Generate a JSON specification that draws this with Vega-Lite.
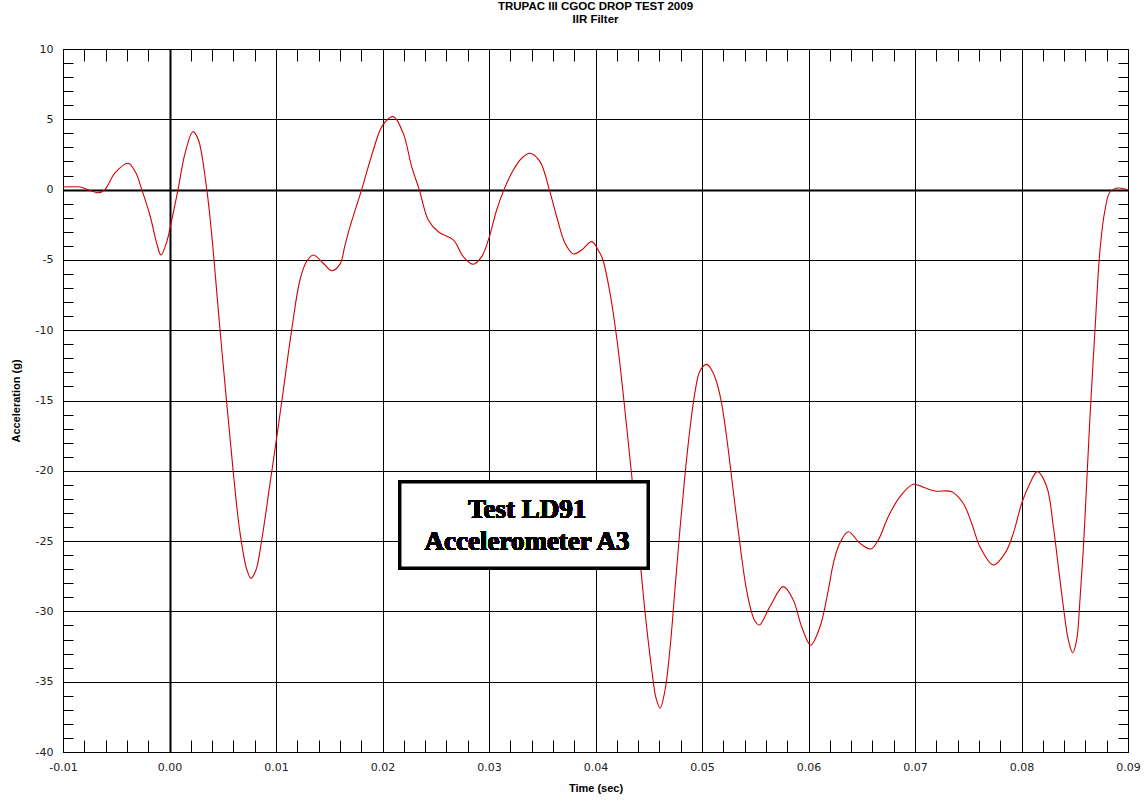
{
  "$schema": "https://vega.github.io/schema/vega-lite/v6.json",
  "width": 1065,
  "height": 703,
  "autosize": {"type": "none"},
  "padding": {"left": 63, "top": 49, "right": 18, "bottom": 51},
  "background": "white",
  "title": {
    "text": "TRUPAC III CGOC DROP TEST 2009",
    "subtitle": "IIR Filter",
    "anchor": "middle",
    "frame": "group",
    "font": "Liberation Sans",
    "fontSize": 11.5,
    "fontWeight": "bold",
    "color": "#000000",
    "subtitleFont": "Liberation Sans",
    "subtitleFontSize": 11.5,
    "subtitleFontWeight": "bold",
    "subtitleColor": "#000000",
    "subtitlePadding": 1,
    "offset": 18
  },
  "data": {
    "values": [
      {"t": -0.0100, "g": 0.19}, {"t": -0.0090, "g": 0.20}, {"t": -0.0084, "g": 0.18},
      {"t": -0.0067, "g": -0.22}, {"t": -0.0061, "g": -0.03}, {"t": -0.0051, "g": 1.2},
      {"t": -0.0039, "g": 1.87}, {"t": -0.0032, "g": 1.25}, {"t": -0.0026, "g": 0.0},
      {"t": -0.0018, "g": -1.93}, {"t": -0.0012, "g": -3.82}, {"t": -0.0008, "g": -4.65},
      {"t": -0.0003, "g": -3.82}, {"t": 0.0002, "g": -2.2}, {"t": 0.0008, "g": 0.0},
      {"t": 0.00146, "g": 2.58}, {"t": 0.0022, "g": 4.12}, {"t": 0.0027, "g": 3.56},
      {"t": 0.0035, "g": 0.0}, {"t": 0.0041, "g": -4.3}, {"t": 0.0047, "g": -9.6},
      {"t": 0.0054, "g": -15.4}, {"t": 0.0060, "g": -20.2}, {"t": 0.0066, "g": -24.3},
      {"t": 0.00725, "g": -27.0}, {"t": 0.00765, "g": -27.65}, {"t": 0.00812, "g": -27.06},
      {"t": 0.00866, "g": -24.92}, {"t": 0.00944, "g": -20.89}, {"t": 0.01007, "g": -17.6},
      {"t": 0.01069, "g": -14.25}, {"t": 0.01147, "g": -9.99}, {"t": 0.01225, "g": -6.43},
      {"t": 0.01288, "g": -5.1}, {"t": 0.0135, "g": -4.65}, {"t": 0.01444, "g": -5.24},
      {"t": 0.01523, "g": -5.77}, {"t": 0.01601, "g": -5.3}, {"t": 0.01648, "g": -3.95},
      {"t": 0.01695, "g": -2.64}, {"t": 0.01805, "g": 0.02}, {"t": 0.01914, "g": 2.82},
      {"t": 0.02002, "g": 4.59}, {"t": 0.02101, "g": 5.19}, {"t": 0.02195, "g": 4.0},
      {"t": 0.02274, "g": 1.63}, {"t": 0.02345, "g": 0.0}, {"t": 0.0243, "g": -2.16},
      {"t": 0.02524, "g": -3.0}, {"t": 0.02665, "g": -3.58}, {"t": 0.02759, "g": -4.77},
      {"t": 0.02853, "g": -5.31}, {"t": 0.02931, "g": -4.77}, {"t": 0.02994, "g": -3.58},
      {"t": 0.03072, "g": -1.45}, {"t": 0.03141, "g": 0.0}, {"t": 0.03228, "g": 1.39},
      {"t": 0.03307, "g": 2.23}, {"t": 0.03385, "g": 2.58}, {"t": 0.03479, "g": 1.99},
      {"t": 0.03566, "g": 0.0}, {"t": 0.03636, "g": -1.93}, {"t": 0.03714, "g": -3.82},
      {"t": 0.03792, "g": -4.58}, {"t": 0.0387, "g": -4.3}, {"t": 0.03964, "g": -3.7},
      {"t": 0.04042, "g": -4.53}, {"t": 0.0407, "g": -5.01}, {"t": 0.04136, "g": -7.35},
      {"t": 0.04202, "g": -10.7}, {"t": 0.04249, "g": -13.76}, {"t": 0.04296, "g": -17.1},
      {"t": 0.04352, "g": -21.22}, {"t": 0.04418, "g": -26.34}, {"t": 0.04465, "g": -30.04},
      {"t": 0.04531, "g": -34.31}, {"t": 0.04568, "g": -36.16}, {"t": 0.04606, "g": -36.89},
      {"t": 0.04653, "g": -35.59}, {"t": 0.047, "g": -32.6}, {"t": 0.04747, "g": -28.34},
      {"t": 0.04794, "g": -24.07}, {"t": 0.04841, "g": -20.23}, {"t": 0.04888, "g": -16.96},
      {"t": 0.04934, "g": -14.4}, {"t": 0.04981, "g": -12.9}, {"t": 0.05044, "g": -12.43},
      {"t": 0.05085, "g": -12.76}, {"t": 0.05131, "g": -13.54}, {"t": 0.05178, "g": -14.96},
      {"t": 0.05225, "g": -17.24}, {"t": 0.05272, "g": -20.09}, {"t": 0.05319, "g": -23.0},
      {"t": 0.05366, "g": -25.78}, {"t": 0.05413, "g": -28.26}, {"t": 0.0546, "g": -29.9},
      {"t": 0.05497, "g": -30.68}, {"t": 0.05538, "g": -30.97},
      {"t": 0.05638, "g": -29.66}, {"t": 0.05763, "g": -28.24},
      {"t": 0.05857, "g": -29.19}, {"t": 0.05936, "g": -31.09}, {"t": 0.0602, "g": -32.39},
      {"t": 0.06108, "g": -31.09}, {"t": 0.06186, "g": -28.48}, {"t": 0.06233, "g": -26.6},
      {"t": 0.0629, "g": -25.2}, {"t": 0.06374, "g": -24.33}, {"t": 0.06484, "g": -25.16},
      {"t": 0.06584, "g": -25.56}, {"t": 0.06655, "g": -24.92}, {"t": 0.06749, "g": -23.26},
      {"t": 0.06859, "g": -21.84}, {"t": 0.06984, "g": -20.96}, {"t": 0.07078, "g": -21.17},
      {"t": 0.07188, "g": -21.44}, {"t": 0.07344, "g": -21.49}, {"t": 0.07453, "g": -22.31},
      {"t": 0.07532, "g": -23.73}, {"t": 0.0761, "g": -25.4}, {"t": 0.07735, "g": -26.7},
      {"t": 0.07845, "g": -25.87}, {"t": 0.07923, "g": -24.45}, {"t": 0.08002, "g": -22.31},
      {"t": 0.0808, "g": -20.89}, {"t": 0.08148, "g": -20.06}, {"t": 0.08237, "g": -21.13},
      {"t": 0.08299, "g": -23.98}, {"t": 0.08346, "g": -26.82}, {"t": 0.08393, "g": -29.66},
      {"t": 0.0844, "g": -32.03}, {"t": 0.08481, "g": -32.94}, {"t": 0.08518, "g": -32.03},
      {"t": 0.08549, "g": -29.19}, {"t": 0.0858, "g": -25.63}, {"t": 0.08612, "g": -20.89},
      {"t": 0.08643, "g": -16.15}, {"t": 0.0869, "g": -9.99}, {"t": 0.08737, "g": -4.3},
      {"t": 0.08784, "g": -1.45}, {"t": 0.08831, "g": -0.17}, {"t": 0.08906, "g": 0.11},
      {"t": 0.0899, "g": 0.0}
    ]
  },
  "layer": [
    {
      "mark": {"type": "line", "color": "#d40000", "strokeWidth": 1.1, "interpolate": "catmull-rom"},
      "encoding": {
        "x": {
          "field": "t", "type": "quantitative",
          "scale": {"domain": [-0.01, 0.09], "nice": false, "zero": false},
          "axis": {
            "orient": "bottom",
            "values": [-0.01, -0.008, -0.006, -0.004, -0.002, 0, 0.002, 0.004, 0.006, 0.008, 0.01, 0.012, 0.014, 0.016, 0.018, 0.02, 0.022, 0.024, 0.026, 0.028, 0.03, 0.032, 0.034, 0.036, 0.038, 0.04, 0.042, 0.044, 0.046, 0.048, 0.05, 0.052, 0.054, 0.056, 0.058, 0.06, 0.062, 0.064, 0.066, 0.068, 0.07, 0.072, 0.074, 0.076, 0.078, 0.08, 0.082, 0.084, 0.086, 0.088, 0.09],
            "labelExpr": "round(datum.value*1000) % 10 == 0 ? replace(format(datum.value, '.2f'), '\u2212', '-') : ''",
            "labelFont": "DejaVu Sans", "labelFontSize": 11, "labelColor": "#222222",
            "labelPadding": 21, "labelFlush": false, "labelOverlap": false,
            "tickSize": -12, "tickColor": "#000000", "tickWidth": 1,
            "grid": true, "gridColor": "#000000",
            "gridOpacity": {"condition": {"test": "round(datum.value*1000) % 10 == 0", "value": 1}, "value": 0},
            "gridWidth": {"condition": {"test": "abs(datum.value) < 0.0001", "value": 2}, "value": 1},
            "domainColor": "#000000", "domainWidth": 1,
            "title": "Time (sec)", "titleFont": "Liberation Sans", "titleFontSize": 11,
            "titleFontWeight": "bold", "titleColor": "#000000", "titlePadding": 10
          }
        },
        "y": {
          "field": "g", "type": "quantitative",
          "scale": {"domain": [-40, 10], "nice": false, "zero": false},
          "axis": {
            "orient": "left",
            "values": [-40, -39, -38, -37, -36, -35, -34, -33, -32, -31, -30, -29, -28, -27, -26, -25, -24, -23, -22, -21, -20, -19, -18, -17, -16, -15, -14, -13, -12, -11, -10, -9, -8, -7, -6, -5, -4, -3, -2, -1, 0, 1, 2, 3, 4, 5, 6, 7, 8, 9, 10],
            "labelExpr": "datum.value % 5 == 0 ? '' + datum.value : ''",
            "labelFont": "DejaVu Sans", "labelFontSize": 11, "labelColor": "#222222",
            "labelPadding": 20, "labelFlush": false, "labelOverlap": false,
            "tickSize": -10, "tickColor": "#000000", "tickWidth": 1,
            "grid": true, "gridColor": "#000000",
            "gridOpacity": {"condition": {"test": "datum.value % 5 == 0", "value": 1}, "value": 0},
            "gridWidth": {"condition": {"test": "datum.value == 0", "value": 2}, "value": 1},
            "domainColor": "#000000", "domainWidth": 1,
            "title": "Acceleration (g)", "titleFont": "Liberation Sans", "titleFontSize": 11,
            "titleFontWeight": "bold", "titleColor": "#000000", "titlePadding": 14
          }
        }
      }
    },
    {
      "mark": {"type": "line", "opacity": 0},
      "encoding": {
        "x": {
          "field": "t", "type": "quantitative",
          "scale": {"domain": [-0.01, 0.09], "nice": false, "zero": false},
          "axis": {
            "orient": "top",
            "values": [-0.008, -0.006, -0.004, -0.002, 0.002, 0.004, 0.006, 0.008, 0.012, 0.014, 0.016, 0.018, 0.022, 0.024, 0.026, 0.028, 0.032, 0.034, 0.036, 0.038, 0.042, 0.044, 0.046, 0.048, 0.052, 0.054, 0.056, 0.058, 0.062, 0.064, 0.066, 0.068, 0.072, 0.074, 0.076, 0.078, 0.082, 0.084, 0.086, 0.088],
            "labels": false, "grid": false, "title": null,
            "tickSize": -12, "tickColor": "#000000", "tickWidth": 1,
            "domainColor": "#000000", "domainWidth": 1
          }
        },
        "y": {
          "field": "g", "type": "quantitative",
          "scale": {"domain": [-40, 10], "nice": false, "zero": false},
          "axis": {
            "orient": "right",
            "values": [-39, -38, -37, -36, -34, -33, -32, -31, -29, -28, -27, -26, -24, -23, -22, -21, -19, -18, -17, -16, -14, -13, -12, -11, -9, -8, -7, -6, -4, -3, -2, -1, 1, 2, 3, 4, 6, 7, 8, 9],
            "labels": false, "grid": false, "title": null,
            "tickSize": -10, "tickColor": "#000000", "tickWidth": 1,
            "domainColor": "#000000", "domainWidth": 1
          }
        }
      }
    },
    {
      "mark": {"type": "rect", "fill": "white", "stroke": "#000000", "strokeWidth": 3},
      "encoding": {
        "x": {"datum": 0.02164, "type": "quantitative", "scale": {"domain": [-0.01, 0.09], "nice": false, "zero": false}, "axis": null},
        "x2": {"datum": 0.04493},
        "y": {"datum": -20.8, "type": "quantitative", "scale": {"domain": [-40, 10], "nice": false, "zero": false}, "axis": null},
        "y2": {"datum": -26.91}
      }
    },
    {
      "mark": {"type": "text", "text": "Test LD91", "font": "Liberation Serif", "fontSize": 27, "fontWeight": "bold", "color": "#000000", "align": "center", "baseline": "alphabetic"},
      "encoding": {
        "x": {"datum": 0.03357, "type": "quantitative", "scale": {"domain": [-0.01, 0.09], "nice": false, "zero": false}, "axis": null},
        "y": {"datum": -23.36, "type": "quantitative", "scale": {"domain": [-40, 10], "nice": false, "zero": false}, "axis": null}
      }
    },
    {
      "mark": {"type": "text", "text": "Accelerometer A3", "font": "Liberation Serif", "fontSize": 27, "fontWeight": "bold", "color": "#000000", "align": "center", "baseline": "alphabetic"},
      "encoding": {
        "x": {"datum": 0.03357, "type": "quantitative", "scale": {"domain": [-0.01, 0.09], "nice": false, "zero": false}, "axis": null},
        "y": {"datum": -25.63, "type": "quantitative", "scale": {"domain": [-40, 10], "nice": false, "zero": false}, "axis": null}
      }
    }
  ],
  "resolve": {"axis": {"x": "independent", "y": "independent"}},
  "config": {"view": {"stroke": null}}
}
